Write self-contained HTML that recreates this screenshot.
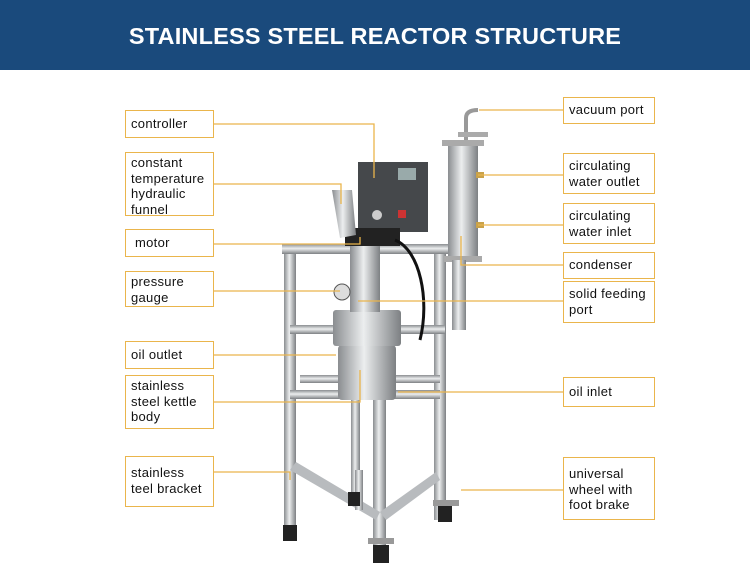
<!DOCTYPE html>
<html><head><style>
body{margin:0;width:750px;height:586px;overflow:hidden;background:#fff;font-family:"Liberation Sans",sans-serif}
.hd{position:absolute;left:0;top:0;width:750px;height:70px;background:#1a4a7c;color:#fff;font-weight:bold;font-size:23.5px;text-align:center;line-height:72px;letter-spacing:0.2px}
.b{position:absolute;border:1.5px solid #eab54c;box-sizing:border-box;font-size:13px;line-height:15.5px;color:#111;padding:2px 5px;background:#fff;letter-spacing:0.3px}
.l{left:125px;width:89px}.r{left:563px;width:92px}
</style></head><body>
<div class="hd">STAINLESS STEEL REACTOR STRUCTURE</div>
<svg width="750" height="586" style="position:absolute;left:0;top:0">
<defs><linearGradient id="m" x1="0" x2="1"><stop offset="0" stop-color="#8a8d90"/><stop offset=".45" stop-color="#eceeef"/><stop offset="1" stop-color="#7d8083"/></linearGradient>
<linearGradient id="h" x1="0" y1="0" x2="0" y2="1"><stop offset="0" stop-color="#8a8d90"/><stop offset=".45" stop-color="#eceeef"/><stop offset="1" stop-color="#7d8083"/></linearGradient></defs>
<rect x="284" y="250" width="12" height="285" fill="url(#m)"/>
<rect x="373" y="370" width="13" height="185" fill="url(#m)"/>
<rect x="434" y="250" width="12" height="270" fill="url(#m)"/>
<rect x="351" y="380" width="9" height="120" fill="url(#m)"/>
<rect x="282" y="244" width="170" height="10" fill="url(#h)"/>
<rect x="290" y="325" width="155" height="9" fill="url(#h)"/>
<rect x="290" y="390" width="150" height="9" fill="url(#h)"/>
<rect x="300" y="375" width="140" height="8" fill="url(#h)"/>
<polygon points="290,470 376,520 380,512 296,462" fill="#b8bbbe"/>
<polygon points="440,480 386,520 380,512 436,472" fill="#b8bbbe"/>
<rect x="355" y="470" width="8" height="40" fill="url(#m)"/>
<rect x="283" y="525" width="14" height="16" fill="#222"/>
<rect x="348" y="492" width="12" height="14" fill="#222"/>
<rect x="373" y="545" width="16" height="18" fill="#222"/>
<rect x="438" y="506" width="14" height="16" fill="#222"/>
<rect x="368" y="538" width="26" height="6" fill="#999"/>
<rect x="433" y="500" width="26" height="6" fill="#999"/>
<rect x="338" y="345" width="58" height="55" rx="4" fill="url(#m)"/>
<rect x="333" y="310" width="68" height="36" rx="3" fill="url(#m)"/>
<rect x="350" y="240" width="30" height="72" fill="url(#m)"/>
<circle cx="342" cy="292" r="8" fill="#ddd" stroke="#555"/>
<rect x="358" y="162" width="70" height="70" fill="#45484b"/>
<rect x="398" y="168" width="18" height="12" fill="#9aa"/>
<circle cx="377" cy="215" r="5" fill="#ccc"/>
<rect x="398" y="210" width="8" height="8" fill="#c33"/>
<rect x="345" y="228" width="55" height="18" fill="#222"/>
<path d="M395,240 C420,250 430,300 420,340" stroke="#111" stroke-width="3" fill="none"/>
<polygon points="332,190 352,190 356,235 340,238" fill="url(#m)"/>
<rect x="448" y="142" width="30" height="118" fill="url(#m)"/>
<rect x="442" y="140" width="42" height="6" fill="#aaa"/>
<rect x="444" y="256" width="38" height="6" fill="#aaa"/>
<rect x="452" y="260" width="14" height="70" fill="url(#m)"/>
<path d="M466,140 L466,118 Q466,110 478,110" stroke="#999" stroke-width="4" fill="none"/>
<rect x="458" y="132" width="30" height="5" fill="#aaa"/>
<rect x="476" y="172" width="8" height="6" fill="#c9a24a"/>
<rect x="476" y="222" width="8" height="6" fill="#c9a24a"/>
<g stroke="#eab54c" stroke-width="1.3" fill="none">
<path d="M214,124H374V178"/><path d="M214,184H341V204"/><path d="M214,244H360V237"/>
<path d="M214,291H340"/><path d="M214,355H336"/><path d="M214,402H360V370"/><path d="M214,472H290V480"/>
<path d="M563,110H479"/><path d="M563,175H478"/><path d="M563,225H478"/><path d="M563,265H461V236"/>
<path d="M563,301H358"/><path d="M563,392H398"/><path d="M563,490H461"/>
</g>
</svg>
<div class="b l" style="top:110px;height:28px;padding-top:5px">controller</div>
<div class="b l" style="top:152px;height:64px">constant temperature hydraulic funnel</div>
<div class="b l" style="top:229px;height:28px;padding:5px 9px">motor</div>
<div class="b l" style="top:271px;height:36px">pressure gauge</div>
<div class="b l" style="top:341px;height:28px;padding-top:5px">oil outlet</div>
<div class="b l" style="top:375px;height:54px">stainless steel kettle body</div>
<div class="b l" style="top:456px;height:51px;padding-top:8px">stainless teel bracket</div>
<div class="b r" style="top:97px;height:27px;padding-top:4px">vacuum port</div>
<div class="b r" style="top:153px;height:41px;padding-top:4px">circulating water outlet</div>
<div class="b r" style="top:203px;height:41px;padding-top:4px">circulating water inlet</div>
<div class="b r" style="top:252px;height:27px;padding-top:4px">condenser</div>
<div class="b r" style="top:281px;height:42px;padding-top:4px">solid feeding port</div>
<div class="b r" style="top:377px;height:30px;padding-top:6px">oil inlet</div>
<div class="b r" style="top:457px;height:63px;padding-top:8px">universal wheel with foot brake</div>
</body></html>
